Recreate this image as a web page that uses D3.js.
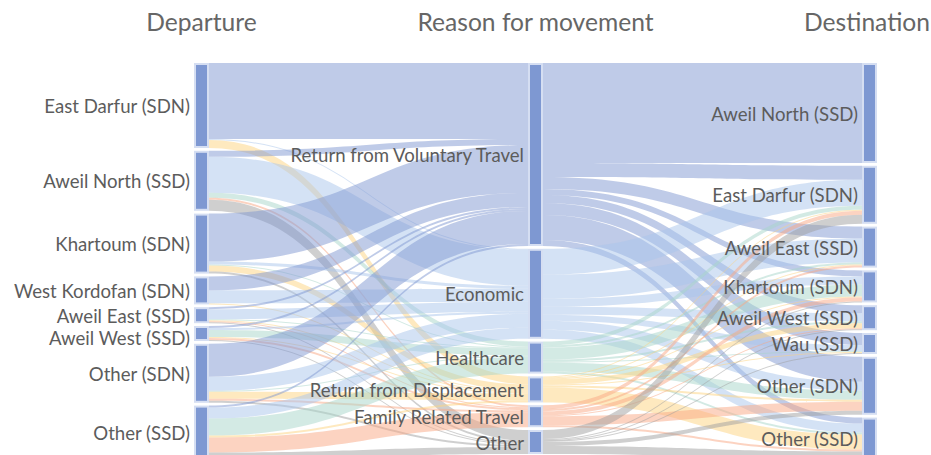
<!DOCTYPE html>
<html>
<head>
<meta charset="utf-8">
<script src="https://cdn.jsdelivr.net/npm/d3@7"></script>
<style>
  body { margin: 0; background: #fff; }
  svg { display: block; }
  text { font-family: Lato, "Open Sans", sans-serif; }
</style>
</head>
<body>
<svg id="chart" width="931" height="455"></svg>
<script>
// column titles
var titles = ["Departure", "Reason for movement", "Destination"];

var departures = ["East Darfur (SDN)", "Aweil North (SSD)", "Khartoum (SDN)", "West Kordofan (SDN)",
                  "Aweil East (SSD)", "Aweil West (SSD)", "Other (SDN)", "Other (SSD)"];
var reasons = ["Return from Voluntary Travel", "Economic", "Healthcare",
               "Return from Displacement", "Family Related Travel", "Other"];
var destinations = ["Aweil North (SSD)", "East Darfur (SDN)", "Aweil East (SSD)", "Khartoum (SDN)",
                    "Aweil West (SSD)", "Wau (SSD)", "Other (SDN)", "Other (SSD)"];

// departure (rows) -> reason (cols)
var departureToReason = [
  [76,  1,  0, 8,  0,  0],
  [ 6, 36,  5, 0,  2, 11],
  [48,  3,  1, 6,  0,  2],
  [14, 13,  0, 1,  0,  0],
  [ 2, 10,  1, 1,  1,  1],
  [ 2,  2,  7, 1,  2,  1],
  [33, 14,  1, 7,  2,  2],
  [ 2, 11, 17, 2, 15,  7]
];

// reason (rows) -> destination (cols); a pair means two separate records
var reasonToDestination = [
  [[77, 23], 14, 12,  6, 8, 12, 25,  6],
  [0,        26, 24,  8, 8,  6,  9,  9],
  [0,         4,  2, 12, 2,  1,  9,  2],
  [0,         1,  1,  1, 5,  1,  2, 15],
  [0,         4,  2,  4, 1,  0,  9,  2],
  [0,         9,  0,  1, 1,  1,  4,  8]
];

// link colour follows the reason
var reasonColors = ["rgba(128,151,209,0.5)", "rgba(170,197,236,0.5)", "rgba(168,214,202,0.5)",
                    "rgba(253,211,128,0.5)", "rgba(250,168,132,0.5)", "rgba(160,160,160,0.5)"];

var topY = 63, pad = 2.8, nodeW = 15, labelGap = 22;
var xScale = d3.scaleLinear().domain([0, 2]).range([194, 862]);
var yScale = d3.scaleLinear().domain([0, 1]).range([0, 1.0]);

var columns = [departures, reasons, destinations];
var nodes = columns.map(function(names, c){
  return names.map(function(n){ return {name: n, col: c, ins: [], outs: [], value: 0}; });
});

var links = [];
function addLink(s, t, v, color){
  var l = {source: s, target: t, value: v, color: color};
  links.push(l); s.outs.push(l); t.ins.push(l);
}
departureToReason.forEach(function(row, i){
  row.forEach(function(v, j){
    if (v > 0) addLink(nodes[0][i], nodes[1][j], v, reasonColors[j]);
  });
});
reasonToDestination.forEach(function(row, i){
  row.forEach(function(cell, j){
    [].concat(cell).forEach(function(v){
      if (v > 0) addLink(nodes[1][i], nodes[2][j], v, reasonColors[i]);
    });
  });
});

// stack nodes
nodes.forEach(function(col){
  var y = topY;
  var lastLabel = -Infinity;
  col.forEach(function(n){
    n.value = Math.max(d3.sum(n.ins, function(l){ return l.value; }),
                       d3.sum(n.outs, function(l){ return l.value; }));
    n.x0 = xScale(n.col); n.x1 = n.x0 + nodeW;
    n.y0 = y; n.y1 = y + yScale(n.value);
    y = n.y1 + pad;
    // label centre, nudged down when it would collide with the one above
    n.ly = Math.max((n.y0 + n.y1) / 2 + 1, lastLabel + labelGap);
    lastLabel = n.ly;
  });
});

// stack links inside nodes
nodes.forEach(function(col){
  col.forEach(function(n){
    var y = n.y0;
    n.outs.slice().sort(function(a, b){ return a.target.y0 - b.target.y0; })
      .forEach(function(l){ l.sy0 = y; y += yScale(l.value); l.sy1 = y; });
    y = n.y0;
    n.ins.slice().sort(function(a, b){ return a.source.y0 - b.source.y0; })
      .forEach(function(l){ l.ty0 = y; y += yScale(l.value); l.ty1 = y; });
  });
});

function linkPath(l){
  var xs = l.source.x1, xt = l.target.x0, xm = (xs + xt) / 2;
  var p = d3.path();
  p.moveTo(xs, l.sy0);
  p.bezierCurveTo(xm, l.sy0, xm, l.ty0, xt, l.ty0);
  p.lineTo(xt, l.ty1);
  p.bezierCurveTo(xm, l.ty1, xm, l.sy1, xs, l.sy1);
  p.closePath();
  return p.toString();
}

var svg = d3.select("#chart");

svg.append("g")
  .selectAll("path")
  .data(links)
  .enter()
  .append("path")
  .attr("d", linkPath)
  .attr("fill", function(d){ return d.color; });

var allNodes = d3.merge(nodes);

svg.append("g")
  .selectAll("rect")
  .data(allNodes)
  .enter()
  .append("rect")
  .attr("x", function(d){ return d.x0 + 1; })
  .attr("y", function(d){ return d.y0 + 1; })
  .attr("width", nodeW - 2)
  .attr("height", function(d){ return Math.max(0, d.y1 - d.y0 - 2); })
  .attr("fill", "#7e98d2")
  .attr("stroke", "#d5def2")
  .attr("stroke-width", 2);

svg.append("g")
  .selectAll("text")
  .data(allNodes)
  .enter()
  .append("text")
  .attr("x", function(d){ return d.x0 - 4; })
  .attr("y", function(d){ return d.ly; })
  .attr("dy", "0.35em")
  .attr("text-anchor", "end")
  .attr("font-size", 18.6)
  .attr("fill", "#5c5c5c")
  .text(function(d){ return d.name; });

svg.append("g")
  .selectAll("text")
  .data(titles)
  .enter()
  .append("text")
  .attr("x", function(d, i){ return i == 2 ? 930 : xScale(i) + nodeW / 2; })
  .attr("y", 31)
  .attr("text-anchor", function(d, i){ return i == 2 ? "end" : "middle"; })
  .attr("font-size", 24.6)
  .attr("fill", "#666")
  .text(function(d){ return d; });
</script>
</body>
</html>
